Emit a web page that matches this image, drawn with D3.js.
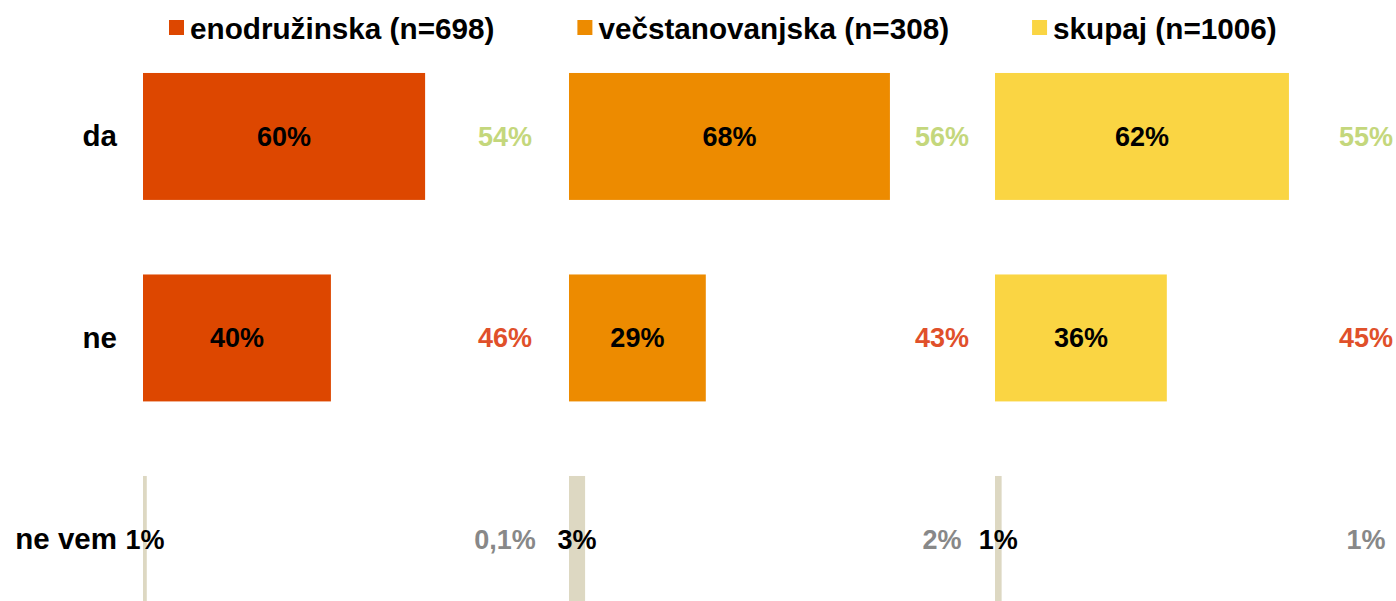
<!DOCTYPE html>
<html>
<head>
<meta charset="utf-8">
<script src="https://cdn.jsdelivr.net/npm/d3@7"></script>
<style>
  html, body { margin: 0; padding: 0; background: #fff; }
  svg { display: block; font-family: 'Liberation Sans', Arial, sans-serif; }
</style>
</head>
<body>
<svg id="chart" width="1396" height="601"></svg>
<script>
// Data
const rows = ['da', 'ne', 'ne vem']
const groups = ['enodružinska (n=698)', 'večstanovanjska (n=308)', 'skupaj (n=1006)']
const enodruzinska = [59.6, 39.7, 0.8]
const vecstanovanjska = [67.8, 28.9, 3.4]
const skupaj = [62.1, 36.3, 1.4]
// comparison values shown right of each panel
const compEnodruzinska = [54, 46, 0.1]
const compVecstanovanjska = [56, 43, 2]
const compSkupaj = [55, 45, 1]

const series = [enodruzinska, vecstanovanjska, skupaj]
const comparisons = [compEnodruzinska, compVecstanovanjska, compSkupaj]

const groupColors = ['#DD4700', '#ED8B00', '#FAD543']
const neVemColor = '#DDD8C2'
const compColors = ['#C4D77C', '#E0502A', '#888888']

const panelLeft = 143
const panelStep = 426
const compOffset = [362, 373, 371]

const svg = d3.select('#chart')

const y = d3.scaleBand()
  .domain(rows)
  .range([35.7, 640.2])
  .paddingInner(0.37)
  .paddingOuter(0.185)

const x = d3.scaleLinear()
  .domain([0, 90])
  .range([0, panelStep])

const fmtBar = v => d3.format('.0f')(v) + '%'
const fmtComp = v => (v < 1 ? d3.format('.1f')(v) : d3.format('.0f')(v)).replace('.', ',') + '%'

// Row labels
svg.append('g')
  .selectAll('text')
  .data(rows)
  .enter()
  .append('text')
  .attr('x', 117)
  .attr('y', d => y(d) + y.bandwidth() / 2)
  .attr('dy', '0.34em')
  .attr('text-anchor', 'end')
  .attr('font-size', '29.5px')
  .attr('font-weight', 'bold')
  .attr('fill', '#000')
  .text(d => d)

// Panels
series.forEach((vals, gi) => {
  const g = svg.append('g')
    .attr('transform', `translate(${panelLeft + gi * panelStep},0)`)

  g.selectAll('rect')
    .data(vals)
    .enter()
    .append('rect')
    .attr('x', x(0))
    .attr('y', (d, i) => y(rows[i]))
    .attr('width', d => x(d) - x(0))
    .attr('height', y.bandwidth())
    .attr('fill', (d, i) => i === 2 ? neVemColor : groupColors[gi])

  g.selectAll('.val')
    .data(vals)
    .enter()
    .append('text')
    .classed('val', true)
    .attr('x', d => x(d) / 2)
    .attr('y', (d, i) => y(rows[i]) + y.bandwidth() / 2)
    .attr('dy', '0.34em')
    .attr('text-anchor', 'middle')
    .attr('font-size', '27px')
    .attr('font-weight', 'bold')
    .attr('fill', '#000')
    .text(d => fmtBar(d))

  g.selectAll('.comp')
    .data(comparisons[gi])
    .enter()
    .append('text')
    .classed('comp', true)
    .attr('x', compOffset[gi])
    .attr('y', (d, i) => y(rows[i]) + y.bandwidth() / 2)
    .attr('dy', '0.34em')
    .attr('text-anchor', 'middle')
    .attr('font-size', '27px')
    .attr('font-weight', 'bold')
    .attr('fill', (d, i) => compColors[i])
    .text(d => fmtComp(d))
})

// Legend (flow layout)
const legend = svg.append('g').classed('legend', true)
let lx = 169
groups.forEach((name, gi) => {
  legend.append('rect')
    .attr('x', lx)
    .attr('y', 20)
    .attr('width', 15)
    .attr('height', 15)
    .attr('fill', groupColors[gi])
  const t = legend.append('text')
    .attr('x', lx + 21)
    .attr('y', 28)
    .attr('dy', '0.36em')
    .attr('font-size', '29.7px')
    .attr('font-weight', 'bold')
    .attr('fill', '#000')
    .text(name)
  lx += 21 + t.node().getComputedTextLength() + 83
})
</script>
</body>
</html>
